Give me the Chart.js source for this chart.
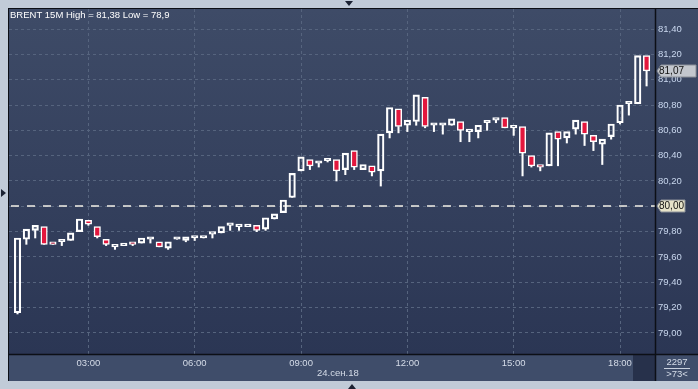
<!DOCTYPE html>
<html>
<head>
<meta charset="utf-8">
<script src="https://cdn.jsdelivr.net/npm/chart.js@4.4.1/dist/chart.umd.min.js"></script>
<style>
  html, body { margin: 0; padding: 0; background: #c1cbd8; overflow: hidden; }
</style>
</head>
<body>
<canvas id="brentChart" width="698" height="389"></canvas>
<script>
// BRENT 15M, 24.09.18
var opens  = [79.16, 79.74, 79.81, 79.84, 79.71, 79.72, 79.73, 79.80, 79.89, 79.84,
              79.74, 79.68, 79.69, 79.72, 79.71, 79.74, 79.72, 79.67, 79.74, 79.73,
              79.75, 79.75, 79.78, 79.79, 79.85, 79.84, 79.84, 79.85, 79.82, 79.90,
              79.95, 80.07, 80.28, 80.37, 80.34, 80.36, 80.37, 80.29, 80.44, 80.29,
              80.32, 80.28, 80.58, 80.77, 80.64, 80.67, 80.86, 80.64, 80.64, 80.64,
              80.67, 80.59, 80.59, 80.66, 80.68, 80.70, 80.62, 80.63, 80.40, 80.33,
              80.32, 80.59, 80.54, 80.61, 80.67, 80.56, 80.49, 80.55, 80.66, 80.81,
              80.81, 81.19];
var highs  = [79.76, 79.82, 79.86, 79.84, 79.73, 79.73, 79.81, 79.90, 79.89, 79.87,
              79.74, 79.70, 79.72, 79.72, 79.75, 79.77, 79.73, 79.72, 79.76, 79.76,
              79.75, 79.76, 79.78, 79.86, 79.87, 79.85, 79.86, 79.85, 79.92, 79.96,
              80.06, 80.27, 80.41, 80.37, 80.38, 80.37, 80.37, 80.43, 80.45, 80.42,
              80.36, 80.59, 80.93, 80.82, 80.73, 80.88, 80.86, 80.73, 80.69, 80.74,
              80.77, 80.62, 80.66, 80.69, 80.71, 80.81, 80.70, 80.64, 80.44, 80.43,
              80.61, 80.67, 80.71, 80.74, 80.71, 80.65, 80.59, 80.65, 80.82, 80.88,
              81.38, 81.26];
var lows   = [79.15, 79.70, 79.75, 79.70, 79.70, 79.69, 79.73, 79.80, 79.85, 79.75,
              79.69, 79.66, 79.69, 79.69, 79.71, 79.71, 79.68, 79.66, 79.74, 79.72,
              79.73, 79.75, 79.75, 79.79, 79.81, 79.81, 79.84, 79.80, 79.81, 79.90,
              79.95, 80.07, 80.28, 80.29, 80.31, 80.35, 80.20, 80.25, 80.29, 80.29,
              80.24, 80.16, 80.54, 80.58, 80.59, 80.64, 80.62, 80.59, 80.57, 80.64,
              80.51, 80.51, 80.54, 80.60, 80.66, 80.62, 80.56, 80.24, 80.31, 80.28,
              80.32, 80.32, 80.50, 80.57, 80.48, 80.44, 80.33, 80.53, 80.65, 80.72,
              80.81, 80.95];
var closes = [79.75, 79.82, 79.85, 79.70, 79.70, 79.72, 79.79, 79.90, 79.86, 79.76,
              79.70, 79.70, 79.71, 79.70, 79.75, 79.74, 79.68, 79.72, 79.75, 79.76,
              79.75, 79.76, 79.78, 79.84, 79.86, 79.85, 79.84, 79.81, 79.91, 79.94,
              80.05, 80.26, 80.39, 80.32, 80.35, 80.37, 80.28, 80.42, 80.31, 80.33,
              80.27, 80.57, 80.78, 80.63, 80.68, 80.88, 80.63, 80.64, 80.64, 80.69,
              80.60, 80.59, 80.64, 80.66, 80.69, 80.62, 80.62, 80.42, 80.32, 80.31,
              80.58, 80.53, 80.59, 80.68, 80.57, 80.51, 80.53, 80.65, 80.80, 80.81,
              81.19, 81.07];

var timeLabels = ["03:00", "06:00", "09:00", "12:00", "15:00", "18:00"];
var timeTicks  = [8, 20, 32, 44, 56, 68];
var priceTicks = [79.0, 79.2, 79.4, 79.6, 79.8, 80.0, 80.2, 80.4, 80.6, 80.8, 81.0, 81.2, 81.4];
var levelPrice = 80.0;

var titleText = "BRENT 15M High = 81,38 Low = 78,9";
var dateText = "24.сен.18";
var counterText = "2297";
var visibleText = ">73<";

var FONT = "9.5px 'Liberation Sans', Arial, sans-serif";

function fmt(v) {
  return v.toFixed(2).replace(".", ",");
}

var bodyData = [], upperWick = [], lowerWick = [], bodyColors = [];
for (var i = 0; i < opens.length; i++) {
  var top = Math.max(opens[i], closes[i]);
  var bot = Math.min(opens[i], closes[i]);
  bodyData.push({ x: i, y: [opens[i], closes[i]] });
  upperWick.push({ x: i, y: [top, highs[i]] });
  lowerWick.push({ x: i, y: [lows[i], bot] });
  bodyColors.push(closes[i] < opens[i] ? "#e3173d" : "rgba(0,0,0,0)");
}

function priceTag(ctx, y, text, fill, w) {
  var x = 657;
  ctx.beginPath();
  ctx.moveTo(x, y);
  ctx.lineTo(x + 4, y - 6);
  ctx.lineTo(x + w, y - 6);
  ctx.lineTo(x + w, y + 6);
  ctx.lineTo(x + 4, y + 6);
  ctx.closePath();
  ctx.fillStyle = fill;
  ctx.fill();
  ctx.strokeStyle = "#8a8f98";
  ctx.lineWidth = 1;
  ctx.stroke();
  ctx.fillStyle = "#111111";
  ctx.font = "10px 'Liberation Sans', Arial, sans-serif";
  ctx.textAlign = "left";
  ctx.textBaseline = "middle";
  ctx.fillText(text, x + 2, y + 0.5);
}

var framePlugin = {
  id: "frame",
  beforeDraw: function (chart) {
    var ctx = chart.ctx, a = chart.chartArea, W = chart.width, H = chart.height;
    ctx.save();
    ctx.fillStyle = "#c1cbd8";
    ctx.fillRect(0, 0, W, H);
    var g = ctx.createLinearGradient(0, a.top, 0, a.bottom);
    g.addColorStop(0, "#3e4b67");
    g.addColorStop(1, "#2b3654");
    ctx.fillStyle = g;
    ctx.fillRect(a.left, a.top, W - a.left, a.bottom - a.top);
    ctx.fillStyle = "#3f4d6a";
    ctx.fillRect(a.left, a.bottom, W - a.left, 27);
    ctx.fillStyle = "#27314b";
    ctx.fillRect(a.right - 22, a.bottom + 1, 22, 26);
    ctx.restore();
  },
  beforeDatasetsDraw: function (chart) {
    var ctx = chart.ctx, a = chart.chartArea;
    var y = Math.round(chart.scales.y.getPixelForValue(levelPrice));
    ctx.save();
    ctx.strokeStyle = "#f2f0e6";
    ctx.lineWidth = 1.5;
    ctx.setLineDash([8, 8]);
    ctx.beginPath();
    ctx.moveTo(a.left + 2, y);
    ctx.lineTo(a.right, y);
    ctx.stroke();
    ctx.restore();
  },
  afterDraw: function (chart) {
    var ctx = chart.ctx, a = chart.chartArea, W = chart.width, H = chart.height;
    var ys = chart.scales.y;
    ctx.save();
    // frame lines
    ctx.strokeStyle = "#0c0f16";
    ctx.lineWidth = 1;
    ctx.beginPath();
    ctx.moveTo(a.left - 0.5, a.top - 1); ctx.lineTo(a.left - 0.5, a.bottom + 27);
    ctx.moveTo(a.left - 1, a.top - 0.5); ctx.lineTo(W, a.top - 0.5);
    ctx.stroke();
    ctx.lineWidth = 1.5;
    ctx.beginPath();
    ctx.moveTo(a.right + 0.5, a.top); ctx.lineTo(a.right + 0.5, a.bottom + 27);
    ctx.moveTo(a.left, a.bottom + 0.5); ctx.lineTo(W, a.bottom + 0.5);
    ctx.stroke();

    // title
    ctx.font = FONT;
    ctx.fillStyle = "#ffffff";
    ctx.textAlign = "left";
    ctx.textBaseline = "middle";
    ctx.fillText(titleText, 10, 15);

    // date and counters
    ctx.fillStyle = "#d5dce8";
    ctx.fillText(dateText, 317, 373);
    ctx.textAlign = "center";
    ctx.fillText(counterText, 677, 362);
    ctx.fillText(visibleText, 677, 374);
    ctx.strokeStyle = "#c9d1de";
    ctx.lineWidth = 1;
    ctx.beginPath();
    ctx.moveTo(664, 368.5); ctx.lineTo(690, 368.5);
    ctx.stroke();

    // price tags
    priceTag(ctx, Math.round(ys.getPixelForValue(levelPrice)), fmt(levelPrice), "#e6e3c9", 28);
    priceTag(ctx, Math.round(ys.getPixelForValue(closes[closes.length - 1])), fmt(closes[closes.length - 1]), "#c3c7ce", 39);

    // scroll arrows
    ctx.fillStyle = "#1b2233";
    ctx.beginPath();
    ctx.moveTo(345, 1); ctx.lineTo(353, 1); ctx.lineTo(349, 6); ctx.closePath();
    ctx.moveTo(348, 389); ctx.lineTo(356, 389); ctx.lineTo(352, 384); ctx.closePath();
    ctx.moveTo(1, 189); ctx.lineTo(1, 197); ctx.lineTo(6, 193); ctx.closePath();
    ctx.fill();
    ctx.restore();
  }
};

new Chart(document.getElementById("brentChart"), {
  type: "bar",
  data: {
    datasets: [
      {
        data: upperWick,
        backgroundColor: "#ffffff",
        barThickness: 1.4,
        grouped: false,
        order: 2
      },
      {
        data: lowerWick,
        backgroundColor: "#ffffff",
        barThickness: 1.4,
        grouped: false,
        order: 2
      },
      {
        data: bodyData,
        backgroundColor: bodyColors,
        borderColor: "#ffffff",
        borderWidth: 1.5,
        borderSkipped: false,
        barThickness: 6.5,
        minBarLength: 2.5,
        grouped: false,
        order: 1
      }
    ]
  },
  options: {
    responsive: false,
    devicePixelRatio: 1,
    animation: false,
    events: [],
    layout: { padding: { left: 9, top: 9, right: 0, bottom: 8 } },
    plugins: {
      legend: { display: false },
      tooltip: { enabled: false }
    },
    scales: {
      x: {
        type: "linear",
        position: "bottom",
        offset: false,
        min: -0.96,
        max: 71.95,
        afterBuildTicks: function (scale) {
          scale.ticks = timeTicks.map(function (v) { return { value: v }; });
        },
        afterFit: function (scale) {
          scale.height = 27;
          scale.paddingLeft = 0;
          scale.paddingRight = 0;
        },
        grid: { color: "#56647e", drawTicks: false, lineWidth: 1, offset: false },
        border: { display: false, dash: [3, 3] },
        ticks: {
          autoSkip: false,
          maxRotation: 0,
          padding: 4,
          color: "#d5dce8",
          font: { family: "'Liberation Sans', Arial, sans-serif", size: 9.5 },
          callback: function (v) { return timeLabels[timeTicks.indexOf(v)]; }
        }
      },
      y: {
        type: "linear",
        position: "right",
        min: 78.834,
        max: 81.558,
        afterBuildTicks: function (scale) {
          scale.ticks = priceTicks.map(function (v) { return { value: v }; });
        },
        afterFit: function (scale) {
          scale.width = 43;
          scale.paddingTop = 0;
          scale.paddingBottom = 0;
        },
        grid: { color: "#56647e", drawTicks: false, lineWidth: 1 },
        border: { display: false, dash: [3, 3] },
        ticks: {
          padding: 3,
          color: "#c9d7ee",
          font: { family: "'Liberation Sans', Arial, sans-serif", size: 9.5 },
          callback: function (v) { return fmt(v); }
        }
      }
    }
  },
  plugins: [framePlugin]
});
</script>
</body>
</html>
